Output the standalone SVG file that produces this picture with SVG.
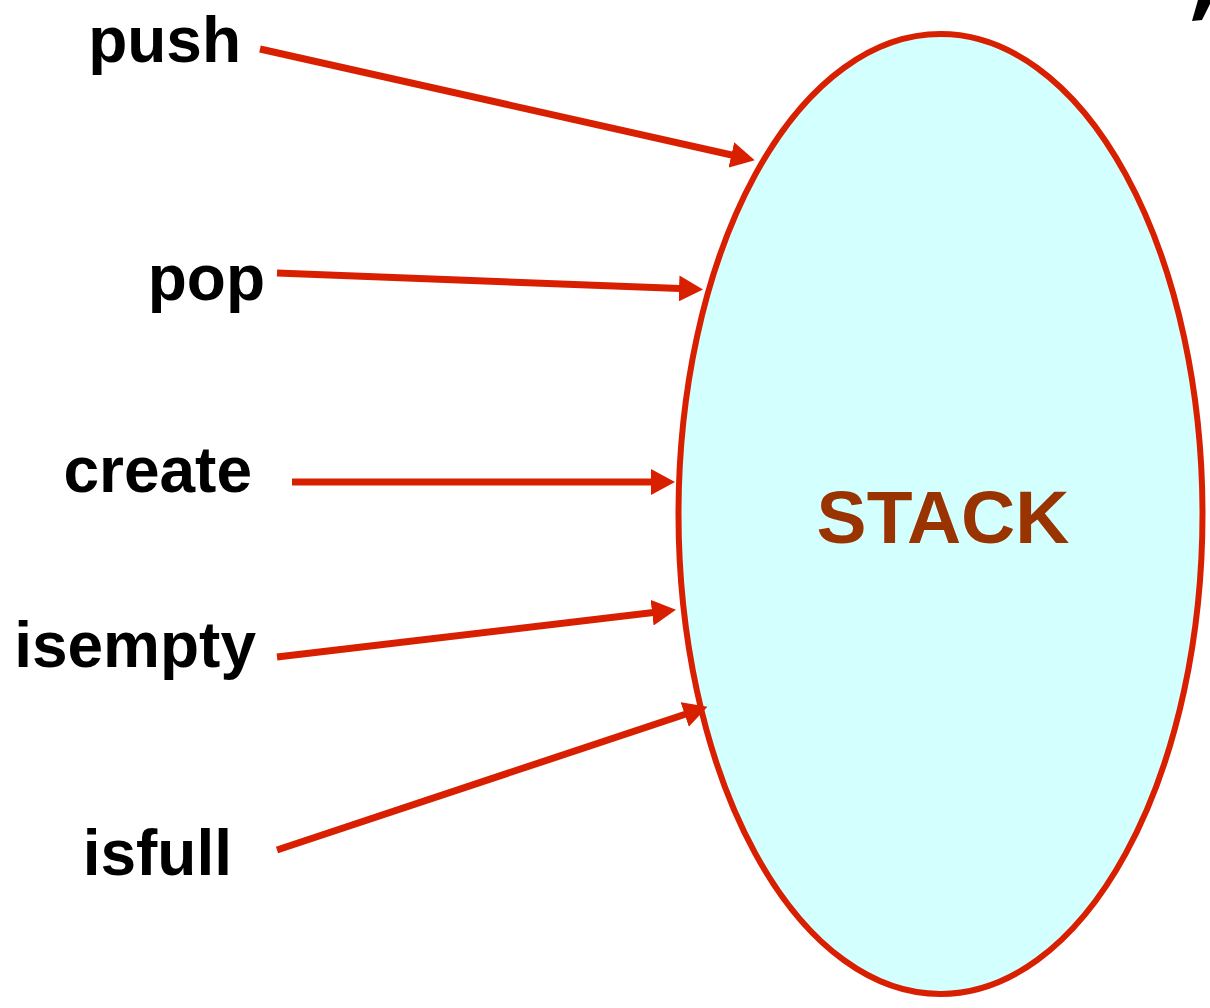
<svg xmlns="http://www.w3.org/2000/svg" width="1210" height="1008" viewBox="0 0 1210 1008">
  <style>
    .label { font-family: "Liberation Sans", Arial, sans-serif; font-weight: bold; font-size: 64px; fill: #000; text-anchor: end; }
    .title { font-family: "Liberation Sans", Arial, sans-serif; font-weight: bold; font-size: 75px; fill: #993300; text-anchor: middle; }
    .edge { stroke: #d82000; stroke-width: 7; fill: none; marker-end: url(#arrow); }
  </style>
  <defs>
    <marker id="arrow" markerUnits="userSpaceOnUse" markerWidth="24" markerHeight="26" refX="14" refY="13" orient="auto">
      <path d="M0,0 L24,13 L0,26 Z" fill="#d82000"/>
    </marker>
  </defs>
  <rect width="1210" height="1008" fill="#fff"/>

  <!-- clipped mark in the corner -->
  <polygon points="1198,0 1210,0 1210,4 1202,20 1192,21" fill="#000"/>

  <g id="stack">
    <ellipse cx="940.5" cy="514" rx="262" ry="480" fill="#d4ffff" stroke="#d82000" stroke-width="6"/>
    <text class="title" x="943" y="543">STACK</text>
  </g>

  <g id="push"><text class="label" x="241" y="62">push</text></g>
  <g id="pop"><text class="label" x="265" y="300">pop</text></g>
  <g id="create"><text class="label" x="252" y="492">create</text></g>
  <g id="isempty"><text class="label" x="256" y="667">isempty</text></g>
  <g id="isfull"><text class="label" x="232" y="875">isfull</text></g>

  <!-- each line ends 10px short of the arrow tip -->
  <g id="connectors">
    <line class="edge" x1="260" y1="49" x2="745" y2="158"/>
    <line class="edge" x1="277" y1="273" x2="693" y2="289"/>
    <line class="edge" x1="292" y1="482" x2="665" y2="482"/>
    <line class="edge" x1="277" y1="657" x2="666" y2="611"/>
    <line class="edge" x1="277" y1="850" x2="698" y2="710"/>
  </g>
</svg>
